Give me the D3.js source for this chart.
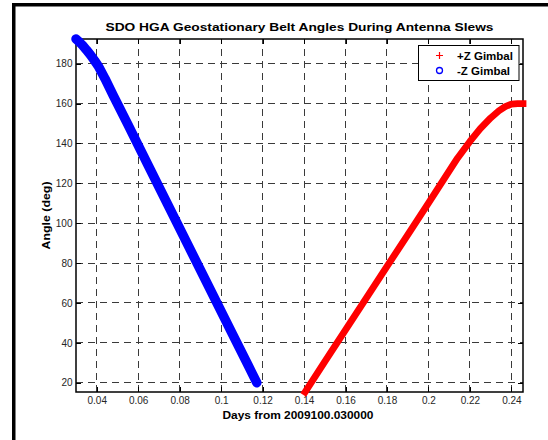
<!DOCTYPE html>
<html>
<head>
<meta charset="utf-8">
<script src="https://cdn.jsdelivr.net/npm/d3@7"></script>
<style>
  body { margin: 0; background: #fff; }
  svg { display: block; font-family: "Liberation Sans", Arial, sans-serif; }
</style>
</head>
<body>
<svg id="chart" width="548" height="440"></svg>
<script>
// Axis limits and ticks
const xLimits = [0.030, 0.2456];
const yLimits = [15.34, 192.4];
const xTicks = [0.04, 0.06, 0.08, 0.10, 0.12, 0.14, 0.16, 0.18, 0.20, 0.22, 0.24];
const xTickLabels = ["0.04", "0.06", "0.08", "0.1", "0.12", "0.14", "0.16", "0.18", "0.2", "0.22", "0.24"];
const yTicks = [20, 40, 60, 80, 100, 120, 140, 160, 180];
const yTickLabels = ["20", "40", "60", "80", "100", "120", "140", "160", "180"];

// -Z gimbal slew (days, deg)
const minusZDays   = [0.0300, 0.0315, 0.0330, 0.0350, 0.0370, 0.0390, 0.0410, 0.0440, 0.0480, 0.0550, 0.0650, 0.0750, 0.0850, 0.0950, 0.1050, 0.1130, 0.1172];
const minusZAngles = [192.4, 191.0, 189.4, 187.0, 184.4, 181.5, 178.4, 172.5, 164.0, 149.6, 128.6, 107.8, 87.0, 66.2, 45.4, 28.8, 20.0];

// +Z gimbal slew (days, deg)
const plusZDays   = [0.1405, 0.1500, 0.1600, 0.1700, 0.1800, 0.1900, 0.2000, 0.2080, 0.2140, 0.2200, 0.2250, 0.2300, 0.2340, 0.2370, 0.2400, 0.2430, 0.2456];
const plusZAngles = [15.3, 30.6, 46.5, 62.4, 78.3, 94.2, 110.1, 123.0, 132.6, 141.0, 147.4, 152.8, 156.4, 158.5, 159.7, 160.0, 160.0];

const seriesNames = ["+Z Gimbal", "-Z Gimbal"];
const titleText = "SDO HGA Geostationary Belt Angles During Antenna Slews";
const xLabelText = "Days from 2009100.030000";
const yLabelText = "Angle (deg)";

const svg = d3.select("#chart");
const box = { left: 76, top: 39, right: 523, bottom: 392 };

const x = d3.scaleLinear().domain(xLimits).range([box.left, box.right]);
const y = d3.scaleLinear().domain(yLimits).range([box.bottom, box.top]);

// Window frame (top and left edges)
svg.append("rect").attr("x", 12).attr("y", 3).attr("width", 536).attr("height", 3.5).attr("fill", "#000");
svg.append("rect").attr("x", 12).attr("y", 3).attr("width", 3.5).attr("height", 437).attr("fill", "#000");

// Grid
const grid = svg.append("g")
  .attr("stroke", "#3a3a3a").attr("stroke-width", 1).attr("stroke-dasharray", "7,5")
  .attr("shape-rendering", "crispEdges");
grid.selectAll("line.vx").data(xTicks).join("line")
  .attr("x1", d => x(d)).attr("x2", d => x(d))
  .attr("y1", box.bottom).attr("y2", box.top);
grid.selectAll("line.hy").data(yTicks).join("line")
  .attr("y1", d => y(d)).attr("y2", d => y(d))
  .attr("x1", box.left).attr("x2", box.right);

// Axes with inward ticks on all sides
const tickStyle = g => {
  g.attr("font-family", null).attr("font-size", null);
  g.select(".domain").remove();
  g.selectAll(".tick line").attr("stroke", "#000").attr("shape-rendering", "crispEdges");
  g.selectAll(".tick text").attr("fill", "#262626").style("font-size", "10px");
};
svg.append("g").attr("transform", `translate(0,${box.bottom})`)
  .call(d3.axisBottom(x).tickValues(xTicks).tickFormat((d, i) => xTickLabels[i]).tickSizeInner(-5).tickSizeOuter(0).tickPadding(5))
  .call(tickStyle);
svg.append("g").attr("transform", `translate(0,${box.top})`)
  .call(d3.axisTop(x).tickValues(xTicks).tickFormat("").tickSizeInner(-5).tickSizeOuter(0))
  .call(tickStyle);
svg.append("g").attr("transform", `translate(${box.left},0)`)
  .call(d3.axisLeft(y).tickValues(yTicks).tickFormat((d, i) => yTickLabels[i]).tickSizeInner(-5).tickSizeOuter(0).tickPadding(3.5))
  .call(tickStyle);
svg.append("g").attr("transform", `translate(${box.right},0)`)
  .call(d3.axisRight(y).tickValues(yTicks).tickFormat("").tickSizeInner(-5).tickSizeOuter(0))
  .call(tickStyle);

// Axes box
svg.append("rect")
  .attr("x", box.left).attr("y", box.top)
  .attr("width", box.right - box.left).attr("height", box.bottom - box.top)
  .attr("fill", "none").attr("stroke", "#000").attr("stroke-width", 1.5);

// Data traces
const line = d3.line().x(d => x(d[0])).y(d => y(d[1]));
const minusZ = d3.zip(minusZDays, minusZAngles);
const plusZ = d3.zip(plusZDays, plusZAngles);

svg.append("path").datum(minusZ)
  .attr("d", line).attr("fill", "none")
  .attr("stroke", "#0000ff").attr("stroke-width", 9.5)
  .attr("stroke-linecap", "round").attr("stroke-linejoin", "round");

svg.append("path").datum(plusZ)
  .attr("d", line).attr("fill", "none")
  .attr("stroke", "#ff0000").attr("stroke-width", 6.8)
  .attr("stroke-linecap", "square").attr("stroke-linejoin", "round");

// Legend
const legend = svg.append("g");
legend.append("rect").attr("x", 418.5).attr("y", 45.5).attr("width", 100.5).attr("height", 35)
  .attr("fill", "#fff").attr("stroke", "#000").attr("stroke-width", 1);
const rowY = [55.5, 70.5];
legend.append("path")
  .attr("d", `M436,${rowY[0]}H443M439.5,${rowY[0] - 3.5}V${rowY[0] + 3.5}`)
  .attr("fill", "none").attr("stroke", "#ff0000").attr("stroke-width", 1.2);
legend.append("circle").attr("cx", 439.5).attr("cy", rowY[1]).attr("r", 3)
  .attr("fill", "none").attr("stroke", "#0000ff").attr("stroke-width", 1.3);
legend.selectAll("text").data(seriesNames).join("text")
  .attr("x", 457).attr("y", (d, i) => rowY[i] + 4)
  .attr("font-size", "11.5px").attr("font-weight", "bold").attr("fill", "#000")
  .text(d => d);

// Title and axis labels
svg.append("text").attr("x", (box.left + box.right) / 2).attr("y", 30.5)
  .attr("text-anchor", "middle").attr("font-size", "11.5px").attr("font-weight", "bold")
  .attr("textLength", 388).attr("lengthAdjust", "spacingAndGlyphs")
  .text(titleText);
svg.append("text").attr("x", 298).attr("y", 419)
  .attr("text-anchor", "middle").attr("font-size", "11.5px").attr("font-weight", "bold")
  .attr("textLength", 151).attr("lengthAdjust", "spacingAndGlyphs")
  .text(xLabelText);
svg.append("text").attr("transform", `translate(50,${(box.top + box.bottom) / 2}) rotate(-90)`)
  .attr("text-anchor", "middle").attr("font-size", "11.5px").attr("font-weight", "bold")
  .attr("textLength", 68).attr("lengthAdjust", "spacingAndGlyphs")
  .text(yLabelText);
</script>
</body>
</html>
